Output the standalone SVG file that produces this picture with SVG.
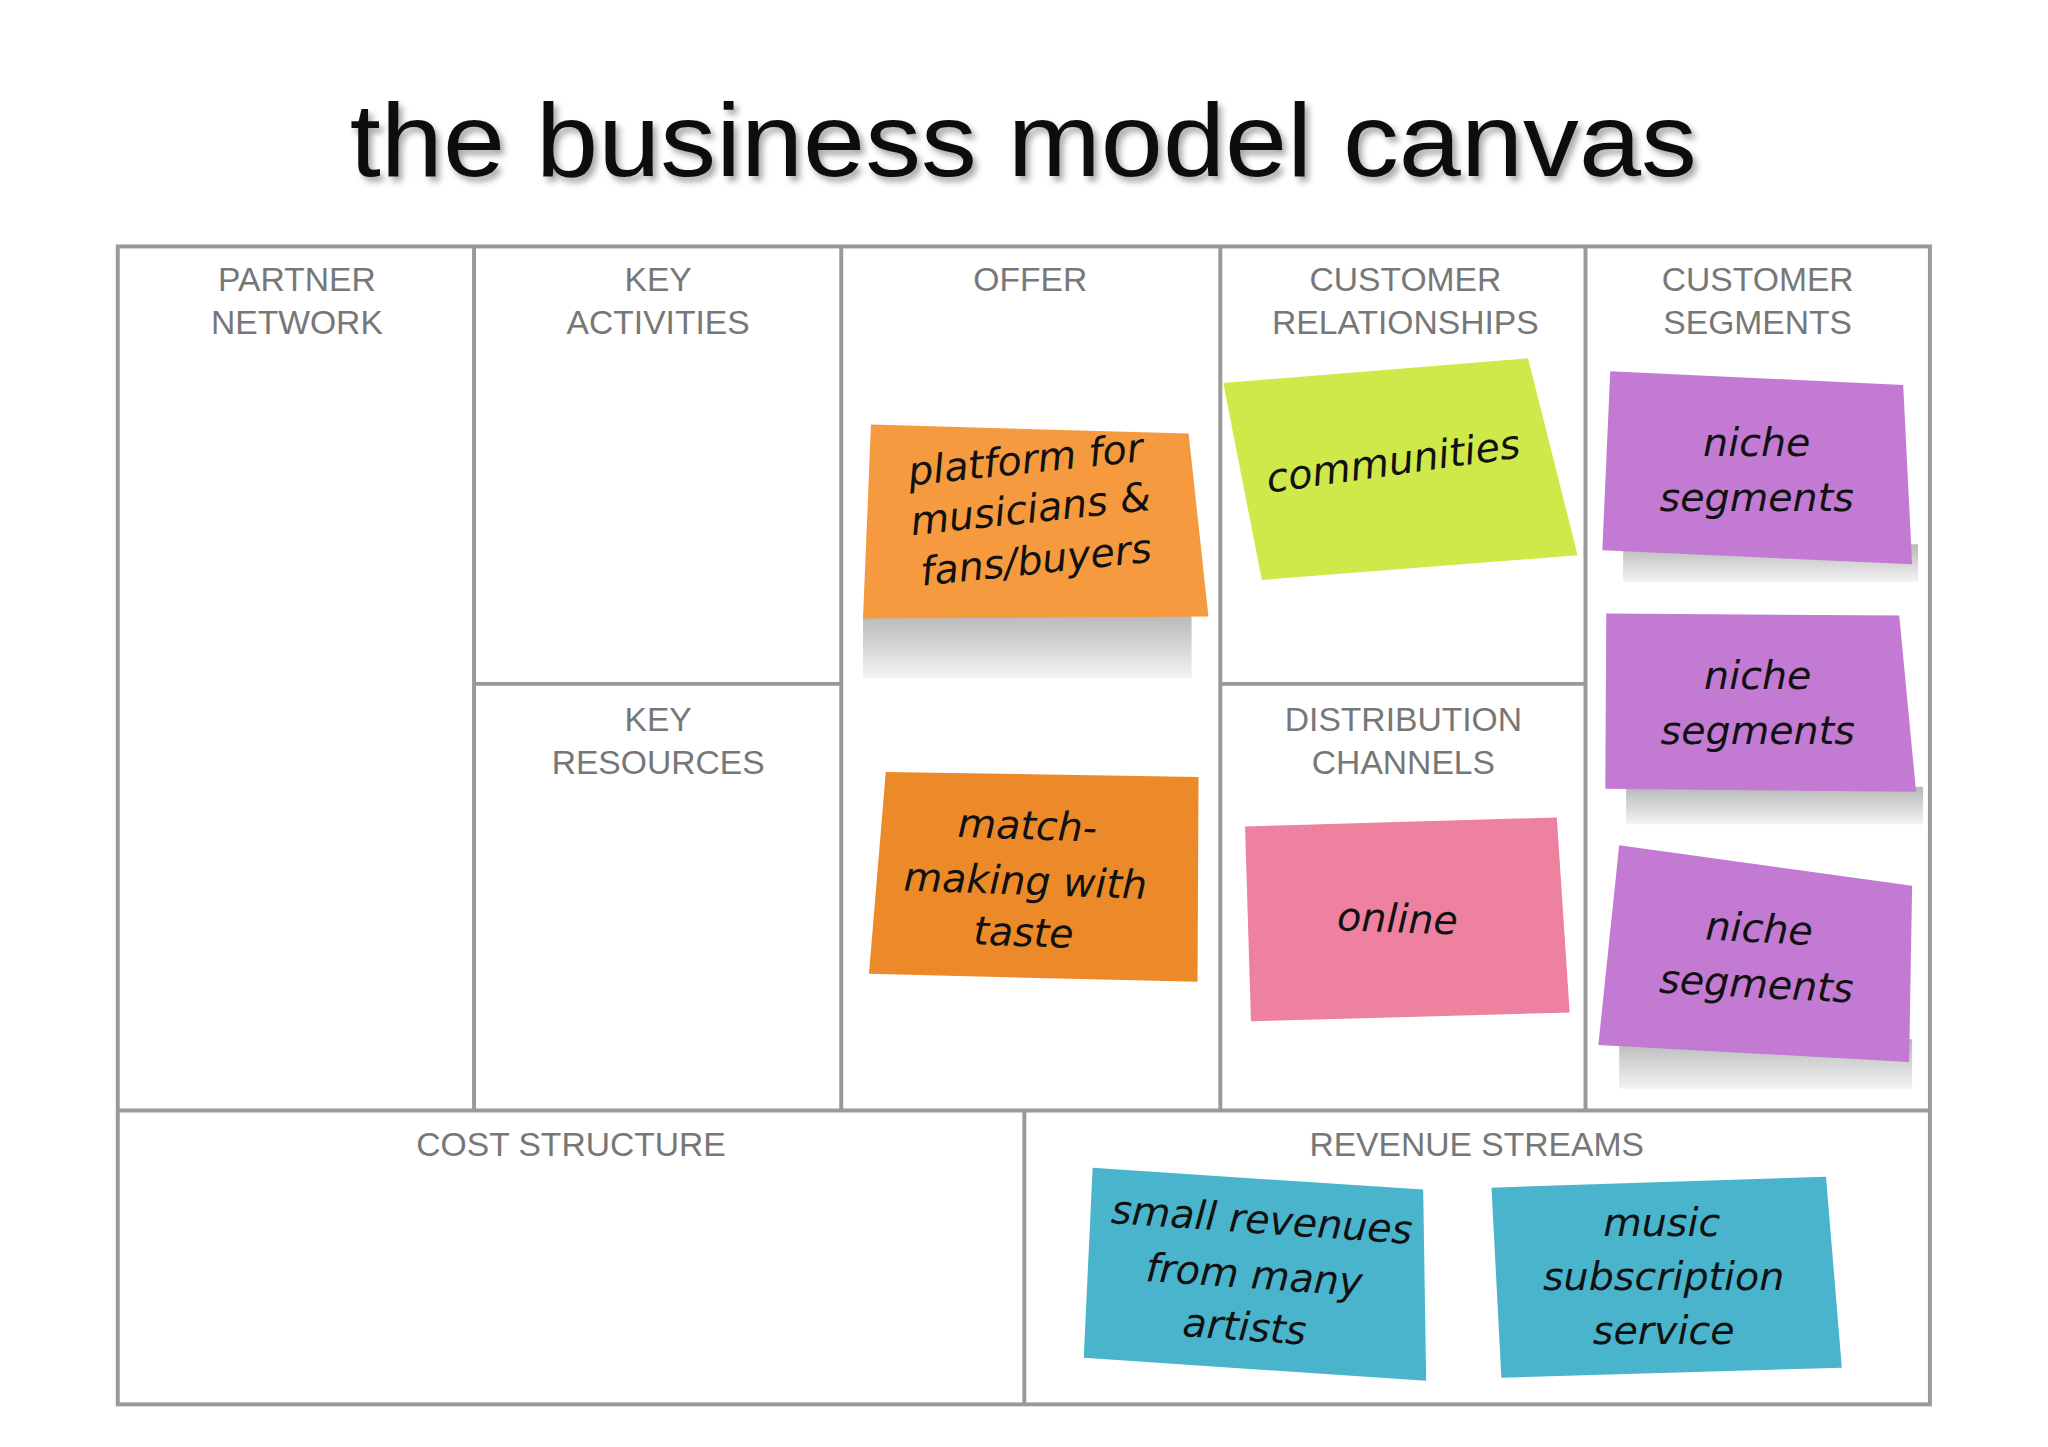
<svg xmlns="http://www.w3.org/2000/svg" width="2048" height="1447" viewBox="0 0 2048 1447">
<style>
.ln{stroke:#999;stroke-width:4;fill:none}
.lb{font-family:"Liberation Sans",Arial,sans-serif;font-size:34px;fill:#777;text-anchor:middle}
.hw{font-family:"DejaVu Sans",sans-serif;font-style:italic;font-size:40px;fill:#111;text-anchor:middle}
</style>
<defs>
<filter id="ts"><feDropShadow dx="4" dy="5" stdDeviation="3" flood-color="#000" flood-opacity="0.35"/></filter>
<linearGradient id="sg" x1="0" y1="0" x2="0" y2="1"><stop offset="0" stop-color="#999"/><stop offset="1" stop-color="#eee"/></linearGradient>
</defs>
<rect width="2048" height="1447" fill="#fff"/>
<g transform="scale(0.9897)">
<text x="1034" y="178" text-anchor="middle" font-family="Liberation Sans,Arial,sans-serif" font-size="104" fill="#111" filter="url(#ts)" textLength="1361" lengthAdjust="spacingAndGlyphs">the business model canvas</text>
<g id="grid">
<rect class="ln" x="119" y="249" width="1831" height="1170"/>
<line class="ln" x1="119" y1="1122" x2="1950" y2="1122"/>
<line class="ln" x1="479" y1="249" x2="479" y2="1122"/>
<line class="ln" x1="850" y1="249" x2="850" y2="1122"/>
<line class="ln" x1="1233" y1="249" x2="1233" y2="1122"/>
<line class="ln" x1="1602" y1="249" x2="1602" y2="1122"/>
<line class="ln" x1="479" y1="691" x2="850" y2="691"/>
<line class="ln" x1="1233" y1="691" x2="1602" y2="691"/>
<line class="ln" x1="1035" y1="1122" x2="1035" y2="1419"/>
</g>
<g id="labels">
<text class="lb" x="300" y="294">PARTNER</text><text class="lb" x="300" y="337">NETWORK</text>
<text class="lb" x="665" y="294">KEY</text><text class="lb" x="665" y="337">ACTIVITIES</text>
<text class="lb" x="1041" y="294">OFFER</text>
<text class="lb" x="1420" y="294">CUSTOMER</text><text class="lb" x="1420" y="337">RELATIONSHIPS</text>
<text class="lb" x="1776" y="294">CUSTOMER</text><text class="lb" x="1776" y="337">SEGMENTS</text>
<text class="lb" x="665" y="739">KEY</text><text class="lb" x="665" y="782">RESOURCES</text>
<text class="lb" x="1418" y="739">DISTRIBUTION</text><text class="lb" x="1418" y="782">CHANNELS</text>
<text class="lb" x="577" y="1168">COST STRUCTURE</text>
<text class="lb" x="1492" y="1168">REVENUE STREAMS</text>
</g>
<g id="note-platform">
<rect x="872" y="620" width="332" height="65" fill="url(#sg)" opacity="0.7"/>
<polygon points="880,429 1201,438 1221,623 872,625" fill="#f59a3e"/>
<g transform="rotate(-6 1042 521)"><text class="hw" x="1042" y="478">platform for</text><text class="hw" x="1042" y="528">musicians &amp;</text><text class="hw" x="1042" y="580">fans/buyers</text></g>
</g>
<g id="note-match">
<polygon points="895,780 1211,785 1210,992 878,984" fill="#ec8a2a"/>
<g transform="rotate(2 1036 892)"><text class="hw" x="1036" y="848">match-</text><text class="hw" x="1036" y="904">making with</text><text class="hw" x="1036" y="956">taste</text></g>
</g>
<g id="note-communities">
<polygon points="1236,387 1544,362 1594,561 1275,586" fill="#cfe94a"/>
<text class="hw" x="1408" y="480" transform="rotate(-8 1408 468)">communities</text>
</g>
<g id="note-online">
<polygon points="1258,835 1573,826 1586,1023 1264,1032" fill="#ee80a0"/>
<text class="hw" x="1412" y="942" transform="rotate(2 1412 930)">online</text>
</g>
<g id="note-niche1">
<rect x="1640" y="550" width="298" height="38" fill="url(#sg)" opacity="0.7"/>
<polygon points="1627,375 1923,389 1932,570 1619,556" fill="#c27ad3"/>
<text class="hw" x="1775" y="461">niche</text><text class="hw" x="1775" y="516">segments</text>
</g>
<g id="note-niche2">
<rect x="1643" y="795" width="300" height="38" fill="url(#sg)" opacity="0.7"/>
<polygon points="1623,620 1919,622 1936,800 1622,797" fill="#c27ad3"/>
<text class="hw" x="1776" y="696">niche</text><text class="hw" x="1776" y="752">segments</text>
</g>
<g id="note-niche3">
<rect x="1636" y="1050" width="296" height="50" fill="url(#sg)" opacity="0.7"/>
<polygon points="1636,854 1932,895 1929,1073 1615,1056" fill="#c27ad3"/>
<g transform="rotate(3 1776 968)"><text class="hw" x="1776" y="952">niche</text><text class="hw" x="1776" y="1008">segments</text></g>
</g>
<g id="note-small">
<polygon points="1104,1180 1438,1202 1441,1395 1095,1372" fill="#4ab4cc"/>
<g transform="rotate(4 1268 1290)"><text class="hw" x="1271" y="1246">small revenues</text><text class="hw" x="1267" y="1302">from many</text><text class="hw" x="1261" y="1355">artists</text></g>
</g>
<g id="note-music">
<polygon points="1507,1200 1845,1189 1861,1382 1517,1392" fill="#4ab4cc"/>
<text class="hw" x="1679" y="1249">music</text><text class="hw" x="1681" y="1303">subscription</text><text class="hw" x="1681" y="1358">service</text>
</g>
</g>
</svg>
